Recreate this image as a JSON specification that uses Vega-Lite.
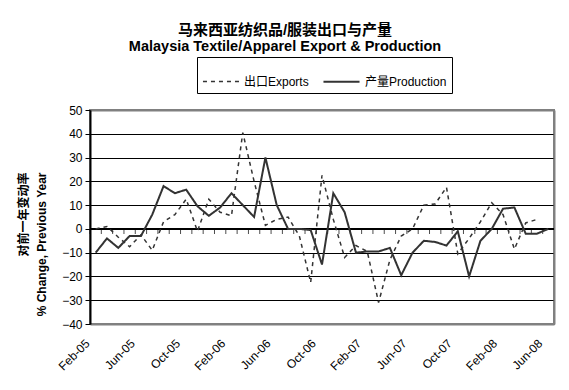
{
  "$schema": "https://vega.github.io/schema/vega-lite/v6.json",
  "width": 464,
  "height": 214,
  "autosize": "none",
  "padding": {"left": 90, "top": 110, "right": 15, "bottom": 66},
  "background": "white",
  "view": {"stroke": "#808080", "strokeWidth": 2, "fill": "white"},
  "config": {
    "font": "Liberation Sans, Noto Sans CJK SC, sans-serif",
    "view": {"stroke": "#808080", "strokeWidth": 2}
  },
  "title": {
    "text": "马来西亚纺织品/服装出口与产量",
    "subtitle": "Malaysia Textile/Apparel Export & Production",
    "fontSize": 15,
    "fontWeight": "bold",
    "color": "black",
    "subtitleFontSize": 14.5,
    "subtitleFontWeight": "bold",
    "subtitleColor": "black",
    "subtitlePadding": 2,
    "anchor": "middle",
    "frame": "group",
    "dx": -37,
    "offset": 3
  },
  "data": {
    "values": [
      {"month": "Feb-05", "exports": 0, "production": -10},
      {"month": "Mar-05", "exports": 1, "production": -4},
      {"month": "Apr-05", "exports": -3.5, "production": -8},
      {"month": "May-05", "exports": -7.5, "production": -3},
      {"month": "Jun-05", "exports": -2.5, "production": -3},
      {"month": "Jul-05", "exports": -9, "production": 6},
      {"month": "Aug-05", "exports": 3, "production": 18},
      {"month": "Sep-05", "exports": 6, "production": 15},
      {"month": "Oct-05", "exports": 12.5, "production": 16.5},
      {"month": "Nov-05", "exports": -1, "production": 9.5},
      {"month": "Dec-05", "exports": 12.5, "production": 5.5},
      {"month": "Jan-06", "exports": 7, "production": 9},
      {"month": "Feb-06", "exports": 5.5, "production": 15},
      {"month": "Mar-06", "exports": 40.5, "production": 10},
      {"month": "Apr-06", "exports": 20, "production": 5},
      {"month": "May-06", "exports": 1.5, "production": 30},
      {"month": "Jun-06", "exports": 4, "production": 10},
      {"month": "Jul-06", "exports": 5, "production": 0},
      {"month": "Aug-06", "exports": -3, "production": 0},
      {"month": "Sep-06", "exports": -22.5, "production": -0.5},
      {"month": "Oct-06", "exports": 22.5, "production": -15},
      {"month": "Nov-06", "exports": 4, "production": 15},
      {"month": "Dec-06", "exports": -12, "production": 7},
      {"month": "Jan-07", "exports": -7, "production": -10},
      {"month": "Feb-07", "exports": -9.5, "production": -9.5},
      {"month": "Mar-07", "exports": -31, "production": -9.5},
      {"month": "Apr-07", "exports": -13, "production": -8},
      {"month": "May-07", "exports": -3, "production": -19.5},
      {"month": "Jun-07", "exports": 0, "production": -10},
      {"month": "Jul-07", "exports": 10, "production": -5},
      {"month": "Aug-07", "exports": 10.5, "production": -5.5},
      {"month": "Sep-07", "exports": 17.5, "production": -7},
      {"month": "Oct-07", "exports": -10.5, "production": -1},
      {"month": "Nov-07", "exports": -4, "production": -20},
      {"month": "Dec-07", "exports": 3, "production": -5},
      {"month": "Jan-08", "exports": 11, "production": 0},
      {"month": "Feb-08", "exports": 6, "production": 8.5},
      {"month": "Mar-08", "exports": -8.5, "production": 9},
      {"month": "Apr-08", "exports": 2.5, "production": -2},
      {"month": "May-08", "exports": 4, "production": -2},
      {"month": "Jun-08", "exports": null, "production": 0}
    ]
  },
  "transform": [{"fold": ["exports", "production"], "as": ["series", "value"]}],
  "encoding": {
    "x": {
      "field": "month",
      "type": "ordinal",
      "scale": {
        "type": "band",
        "paddingInner": 0,
        "paddingOuter": 0,
        "domain": ["Feb-05","Mar-05","Apr-05","May-05","Jun-05","Jul-05","Aug-05","Sep-05","Oct-05","Nov-05","Dec-05","Jan-06","Feb-06","Mar-06","Apr-06","May-06","Jun-06","Jul-06","Aug-06","Sep-06","Oct-06","Nov-06","Dec-06","Jan-07","Feb-07","Mar-07","Apr-07","May-07","Jun-07","Jul-07","Aug-07","Sep-07","Oct-07","Nov-07","Dec-07","Jan-08","Feb-08","Mar-08","Apr-08","May-08","Jun-08"]
      },
      "axis": {
        "values": ["Feb-05","Jun-05","Oct-05","Feb-06","Jun-06","Oct-06","Feb-07","Jun-07","Oct-07","Feb-08","Jun-08"],
        "bandPosition": 0.5,
        "title": null,
        "labelAngle": -45,
        "labelAlign": "right",
        "labelBaseline": "middle",
        "labelPadding": 17,
        "labelOffset": -8,
        "labelFontSize": 12,
        "labelColor": "black",
        "tickSize": 0,
        "domain": false,
        "grid": false
      }
    }
  },
  "resolve": {"axis": {"y": "independent"}},
  "layer": [
    {
      "mark": {"type": "rule", "color": "black", "strokeWidth": 2},
      "encoding": {
        "y": {
          "datum": 0,
          "axis": {
            "orient": "right",
            "labels": false,
            "ticks": false,
            "grid": false,
            "title": null,
            "domainColor": "#808080",
            "domainWidth": 2
          }
        },
        "x": null
      }
    },
    {
      "transform": [{"filter": "datum.series == 'production'"}],
      "mark": {"type": "tick", "orient": "vertical", "color": "black", "size": 5, "thickness": 1},
      "encoding": {
        "x": {"field": "month", "type": "ordinal", "bandPosition": 0},
        "y": {"datum": 0, "axis": null},
        "yOffset": {"value": 2.5}
      }
    },
    {
      "mark": {"type": "line", "interpolate": "linear"},
      "encoding": {
        "x": {"field": "month", "type": "ordinal", "bandPosition": 0.5},
        "y": {
          "field": "value",
          "type": "quantitative",
          "scale": {"domain": [-40, 50], "nice": false, "zero": false},
          "axis": {
            "orient": "left",
            "values": [-40,-30,-20,-10,0,10,20,30,40,50],
            "labelOverlap": false,
            "title": ["对前一年变动率", "% Change, Previous Year"],
            "titleFontSize": 12,
            "titleFontWeight": "bold",
            "titleColor": "black",
            "titleAngle": 270,
            "titleAlign": "right",
            "titleBaseline": "top",
            "titleLineHeight": 18,
            "titleX": -72,
            "titleY": 62,
            "labelFontSize": 12,
            "labelColor": "black",
            "labelPadding": 3,
            "tickSize": 5,
            "tickColor": "black",
            "domainColor": "black",
            "domainWidth": 2,
            "grid": true,
            "gridColor": {"condition": {"test": "datum.value == 50 || datum.value == -40", "value": "#808080"}, "value": "black"},
            "gridWidth": {"condition": {"test": "datum.value == 50 || datum.value == -40", "value": 2}, "value": 1},
            "gridOpacity": 1
          }
        },
        "color": {
          "field": "series",
          "type": "nominal",
          "scale": {"domain": ["exports", "production"], "range": ["#333333", "#333333"]},
          "legend": {
            "title": null,
            "orient": "none",
            "legendX": 107,
            "legendY": -53,
            "direction": "horizontal",
            "strokeColor": "black",
            "padding": 5,
            "symbolType": "stroke",
            "symbolSize": 1300,
            "symbolStrokeWidth": 1.5,
            "labelFontSize": 12,
            "labelColor": "black",
            "columnPadding": 10,
            "labelExpr": "datum.label == 'exports' ? '出口Exports' : '产量Production'"
          }
        },
        "strokeDash": {
          "field": "series",
          "type": "nominal",
          "scale": {"domain": ["exports", "production"], "range": [[4, 4], [1, 0]]},
          "legend": {
            "title": null,
            "orient": "none",
            "legendX": 107,
            "legendY": -53,
            "direction": "horizontal",
            "strokeColor": "black",
            "padding": 5,
            "symbolType": "stroke",
            "symbolSize": 1300,
            "symbolStrokeWidth": 1.5,
            "labelFontSize": 12,
            "labelColor": "black",
            "columnPadding": 10,
            "labelExpr": "datum.label == 'exports' ? '出口Exports' : '产量Production'"
          }
        },
        "strokeWidth": {
          "field": "series",
          "type": "nominal",
          "scale": {"domain": ["exports", "production"], "range": [1.5, 2]},
          "legend": null
        }
      }
    }
  ]
}
